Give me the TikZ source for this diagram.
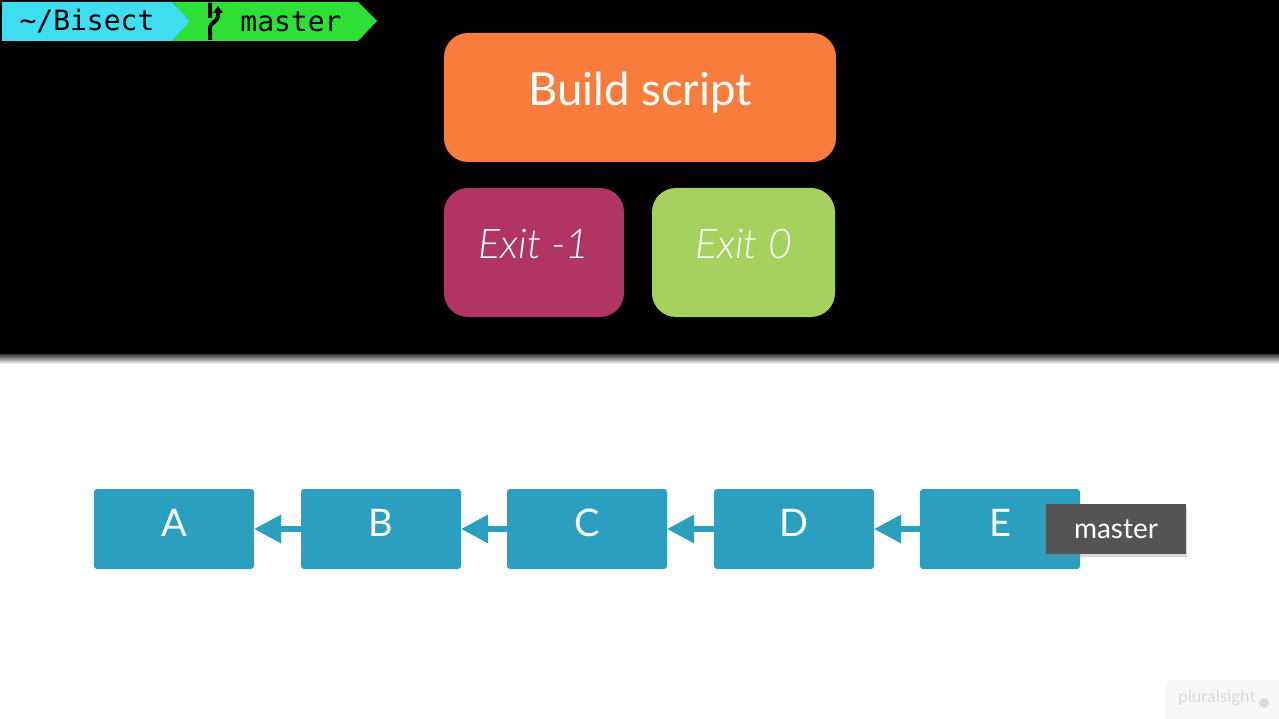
\documentclass[tikz,border=0pt]{standalone}
\usepackage{fontspec}
\setmainfont{Lato}
\newfontfamily\termfont{DejaVu Sans Mono}
\newfontfamily\lightfont{Lato}[UprightFont=* Light, ItalicFont=* Light Italic]
\usetikzlibrary{arrows.meta,shadows}
\definecolor{commitblue}{HTML}{2A9FBF}
\definecolor{buildorange}{HTML}{F87D3C}
\definecolor{exitred}{HTML}{B03562}
\definecolor{exitgreen}{HTML}{A5D15E}
\definecolor{promptcyan}{HTML}{3FDDF0}
\definecolor{promptgreen}{HTML}{2EE036}
\tikzstyle{commit}=[fill=commitblue, text=white, rounded corners=3pt, minimum width=160pt, minimum height=80pt, inner sep=0pt, outer sep=0pt, text depth=13pt, font=\fontsize{38}{38}\selectfont]
\tikzstyle{result}=[rounded corners=24pt, minimum height=129pt, inner sep=0pt, outer sep=0pt, text=white, text depth=18pt, font=\lightfont\fontsize{41}{41}\selectfont\itshape]
\tikzstyle{parent}=[-{Triangle[length=27pt,width=27pt]}, line width=6pt, commitblue]
\tikzstyle{term}=[inner sep=0pt, text=black, font=\termfont\fontsize{28}{28}\selectfont]
\newcommand{\commit}{\node[commit]}
\newcommand{\result}{\node[result]}

\begin{document}
\begin{tikzpicture}[x=1pt,y=-1pt]
            \useasboundingbox (0,0) rectangle (1279,719);
            \fill[white] (0,0) rectangle (1279,719);
            \fill[black] (0,0) rectangle (1279,354);
            \shade[top color=black!80, bottom color=white] (0,354) rectangle (1279,364);

            \fill[promptgreen] (172,2) -- (358,2) -- (377,21) -- (358,41) -- (172,41) -- (190,21) -- cycle;
            \fill[promptcyan] (2,2) -- (172,2) -- (190,21) -- (172,41) -- (2,41) -- cycle;
            \node[term] (path) at (87,21.5) {\char`\~/Bisect};
            \node[term] (branch) at (291,21.5) {master};
            \draw[line width=4pt] (210,3) -- (210,18) (210,40) -- (210,29) .. controls (210,21) and (218,23) .. (218,15) -- (218,11);
            \fill[black] (218,6) -- (223,13) -- (213,13) -- cycle;

            \result[fill=buildorange, minimum width=392pt, font=\fontsize{45.5}{46}\selectfont] (build) at (640,97.5) {Build script};
            \result[fill=exitred, minimum width=180pt] (fail) at (534,252.5) {Exit -1};
            \result[fill=exitgreen, minimum width=183pt] (pass) at (743.5,252.5) {Exit 0};

            \commit (a) at (174,529) {A};
            \commit (b) at (381,529) {B};
            \commit (c) at (587,529) {C};
            \commit (d) at (794,529) {D};
            \commit (e) at (1000,529) {E};

            \path
            (b) edge[parent] (a)
            (c) edge[parent] (b)
            (d) edge[parent] (c)
            (e) edge[parent] (d)
            ;

            \node[fill=black!67, text=white, minimum width=140pt, minimum height=50pt, inner sep=0pt, font=\fontsize{28}{28}\selectfont, drop shadow={shadow xshift=1pt, shadow yshift=-3pt, opacity=.3}] (tag) at (1116,529) {master};

            \fill[black!3, rounded corners=6pt] (1165,680) rectangle (1285,725);
            \node[inner sep=0pt, text=black!15, font=\fontsize{17}{17}\selectfont] (mark) at (1217,698) {pluralsight};
            \node[circle, fill=black!15, inner sep=0pt, minimum size=10pt] (play) at (1264,703) {};
        \end{tikzpicture}
\end{document}
